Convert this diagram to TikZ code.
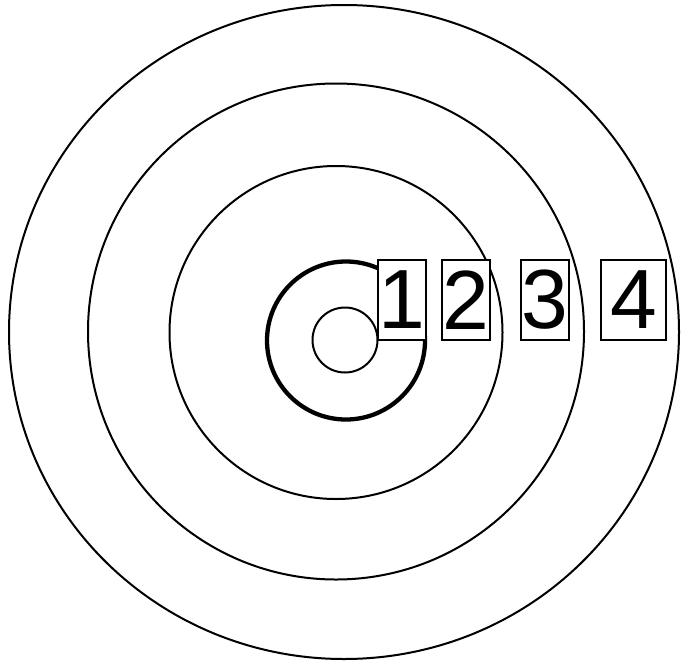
\documentclass[tikz,border=0pt]{standalone}
\usepackage{fontspec}
\setmainfont{Liberation Sans}
\begin{document}
\begin{tikzpicture}[x=1pt,y=-1pt,
  ring/.style={draw=black, line width=2pt},
  thickring/.style={draw=black, line width=4.3pt},
  numbox/.style={draw=black, fill=white, line width=1.4pt, inner sep=0pt,
    minimum height=80pt, font=\fontsize{84}{84}\selectfont}]
\useasboundingbox (0,0) rectangle (682,664);
\draw[ring] (344,332) ellipse [x radius=335, y radius=327];
\draw[ring] (336,331.5) circle [radius=248];
\draw[ring] (336,332.5) circle [radius=166.5];
\draw[thickring] (346,340.5) circle [radius=79];
\draw[ring] (345,340) circle [radius=32.5];
\node[numbox, minimum width=48pt] (b1) at (402,300) {\raisebox{-2pt}{1}};
\node[numbox, minimum width=48pt] (b2) at (466,300) {\raisebox{-2pt}{2}};
\node[numbox, minimum width=48pt] (b3) at (545,300) {\raisebox{-2pt}{3}};
\node[numbox, minimum width=65pt] (b4) at (633.5,300) {\raisebox{-2pt}{4}};
\end{tikzpicture}
\end{document}
